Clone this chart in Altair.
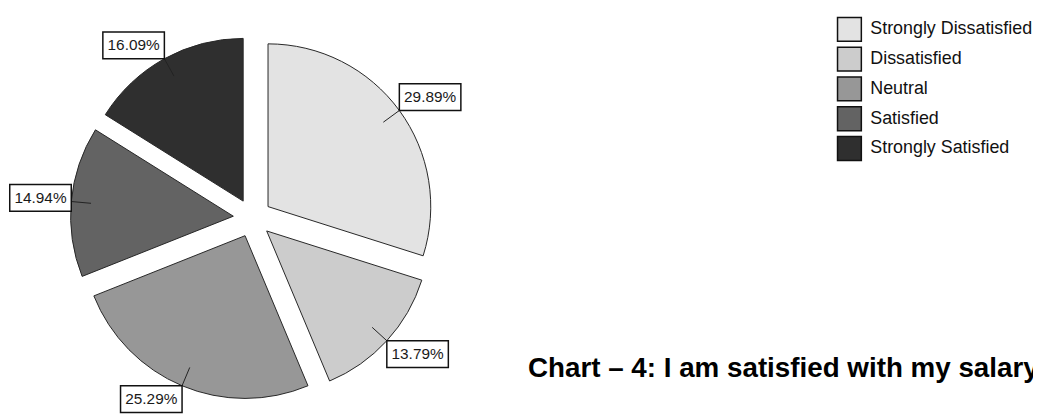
import math
import altair as alt
import pandas as pd

# ---- data ----
categories = ["Strongly Dissatisfied", "Dissatisfied", "Neutral", "Satisfied", "Strongly Satisfied"]
percentages = [29.89, 13.79, 25.29, 14.94, 16.09]
labels = ["29.89%", "13.79%", "25.29%", "14.94%", "16.09%"]
slice_order = [0, 1, 2, 3, 4]
colors = ["#e3e3e3", "#cccccc", "#979797", "#636363", "#2f2f2f"]

df = pd.DataFrame({"category": categories, "pct": percentages,
                   "label": labels, "order": slice_order})

# ---- geometry / style ----
CX, CY = 246.4, 210.0   # pie centre (chart coords)
R = 164                 # pie radius
D = 19.4                # explode distance
R_IN = 144              # leader line inner radius
BW, BH = 62, 27         # label box size
FONT = "Liberation Sans, Arial"

base = alt.Chart(df).transform_window(
    cum="sum(pct)", sort=[alt.SortField("order")], frame=[None, 0]
).transform_calculate(
    start="datum.cum - datum.pct",
    mid="(datum.cum - datum.pct / 2) * 2 * PI / 100",
).transform_calculate(
    cx=f"{CX} + {D} * sin(datum.mid)",
    cy=f"{CY} - {D} * cos(datum.mid)",
).transform_calculate(
    lx1=f"datum.cx + {R_IN} * sin(datum.mid)",
    ly1=f"datum.cy - {R_IN} * cos(datum.mid)",
    lx2=f"datum.cx + {R} * sin(datum.mid)",
    ly2=f"datum.cy - {R} * cos(datum.mid)",
).transform_calculate(
    bx=f"datum.lx2 + clamp(3 * sin(datum.mid), -1, 1) * {BW / 2}",
    by=f"datum.ly2 - clamp(3 * cos(datum.mid), -1, 1) * {BH / 2}",
).transform_calculate(
    bx1=f"datum.bx - {BW / 2}",
    bx2=f"datum.bx + {BW / 2}",
    by1=f"datum.by - {BH / 2}",
    by2=f"datum.by + {BH / 2}",
)

arcs = base.mark_arc(radius=R, stroke="#262626", strokeWidth=1).encode(
    theta=alt.Theta("start:Q", stack=None,
                    scale=alt.Scale(domain=[0, 100], range=[0, 2 * math.pi])),
    theta2="cum:Q",
    x=alt.X("cx:Q", scale=None, axis=None),
    y=alt.Y("cy:Q", scale=None, axis=None),
    color=alt.Color(
        "category:N",
        scale=alt.Scale(domain=categories, range=colors),
        legend=alt.Legend(
            title=None, orient="none", legendX=835, legendY=7,
            symbolType="square", symbolSize=576,
            symbolStrokeColor="#111111", symbolStrokeWidth=1.5,
            labelFont=FONT, labelFontSize=18, labelColor="#111111",
            labelOffset=8, rowPadding=0, padding=0, labelLimit=400,
        ),
    ),
)

leaders = base.mark_rule(color="#222222", strokeWidth=1).encode(
    x=alt.X("lx1:Q", scale=None, axis=None),
    y=alt.Y("ly1:Q", scale=None, axis=None),
    x2="lx2:Q",
    y2="ly2:Q",
)

boxes = base.mark_rect(fill="white", stroke="#111111", strokeWidth=1.5).encode(
    x=alt.X("bx1:Q", scale=None, axis=None),
    x2="bx2:Q",
    y=alt.Y("by1:Q", scale=None, axis=None),
    y2="by2:Q",
)

texts = base.mark_text(font=FONT, fontSize=15.5, color="#1a1a1a",
                       align="center", baseline="middle").encode(
    x=alt.X("bx:Q", scale=None, axis=None),
    y=alt.Y("by:Q", scale=None, axis=None),
    text="label:N",
)

chart = alt.layer(arcs, leaders, boxes, texts).properties(
    width=1033, height=408,
    autosize=alt.AutoSizeParams(type="none"),
    padding=0,
    title=alt.TitleParams(
        "Chart – 4: I am satisfied with my salary",
        orient="bottom", anchor="start", frame="group", offset=0,
        dx=524, dy=-38, baseline="alphabetic",
        font="Liberation Sans, Arial", fontSize=28, fontWeight="bold",
        color="#000000",
    ),
).configure_view(stroke=None)

chart.save("out.html", embed_options={"renderer": "svg", "actions": False})
